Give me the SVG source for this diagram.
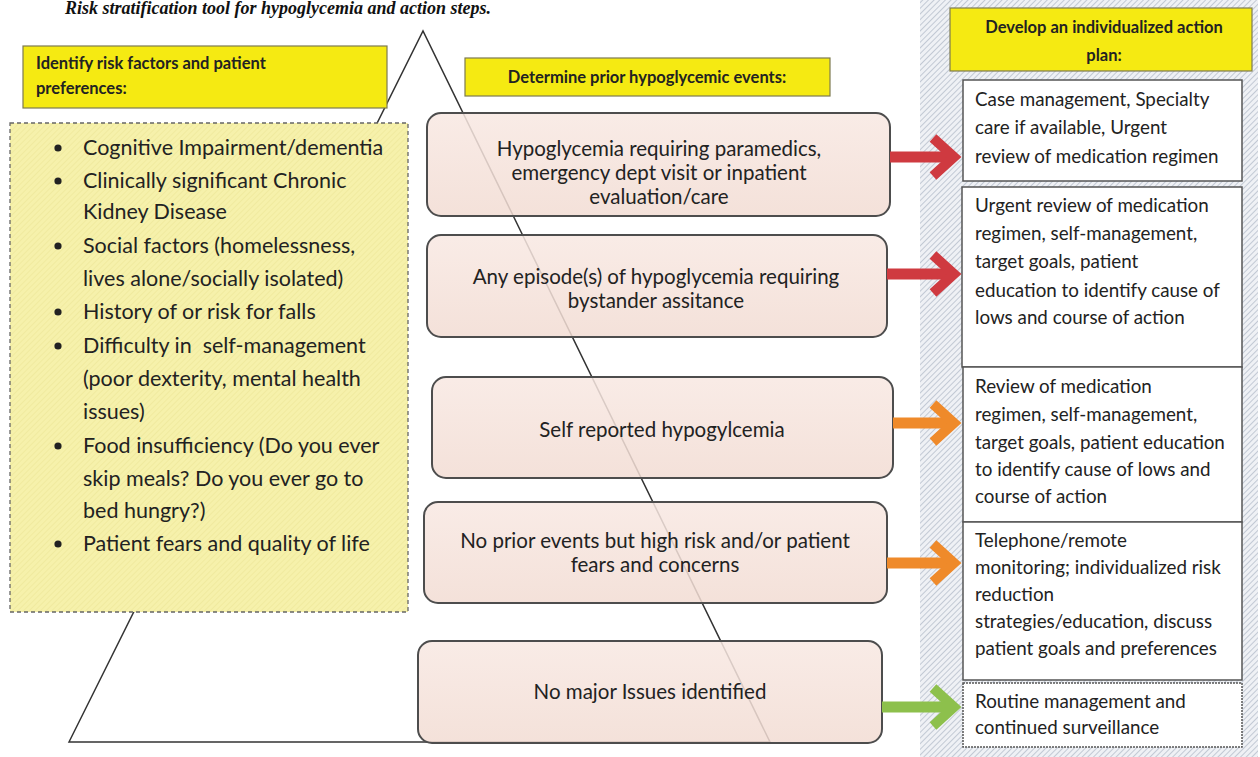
<svg xmlns="http://www.w3.org/2000/svg" width="1260" height="757" viewBox="0 0 1260 757">
<defs>
<pattern id="hatch" width="4" height="4" patternUnits="userSpaceOnUse" patternTransform="rotate(45)">
<rect width="4" height="4" fill="#eff1f5"/>
<line x1="0" y1="0" x2="0" y2="4" stroke="#aab3c3" stroke-width="1.3"/>
</pattern>
<pattern id="yhatch" width="4" height="4" patternUnits="userSpaceOnUse" patternTransform="rotate(45)">
<rect width="4" height="4" fill="#f6f1ab"/>
<line x1="0" y1="0" x2="0" y2="4" stroke="#ebe394" stroke-width="1"/>
</pattern>
<linearGradient id="pink" x1="0" y1="0" x2="0" y2="1">
<stop offset="0" stop-color="#f8e8e2"/>
<stop offset="1" stop-color="#f2dcd3"/>
</linearGradient>
</defs>
<style>
.t{font-family:Lato,"Liberation Sans",sans-serif;fill:#222}
.hd{font-weight:bold;font-size:16.5px}
.li{font-size:21.5px}
.mid{font-size:20.5px;text-anchor:middle}
.rt{font-size:18.8px}
.ybox{fill:#f5ea12;stroke:#7d7a50;stroke-width:1.2}
.pbox{fill:url(#pink);fill-opacity:.85;stroke:#4d4d4d;stroke-width:2}
.wbox{fill:#fff;stroke:#555;stroke-width:1.5}
.shaft{fill:none;stroke-width:11}
.head{fill:none;stroke-width:10;stroke-linejoin:miter;stroke-miterlimit:10}
.red{stroke:#cf3a40}.org{stroke:#ef8a2a}.grn{stroke:#8dc04c}
</style>
<rect width="1260" height="757" fill="#fff"/>
<text x="491" y="14" text-anchor="end" font-family="'Liberation Serif',serif" font-style="italic" font-weight="bold" font-size="18" fill="#111">Risk stratification tool for hypoglycemia and action steps.</text>

<g id="pyramid">
<path d="M69 742 L423 31 L770 742 Z" fill="none" stroke="#333" stroke-width="1.5"/>
</g>

<g id="risk-header">
<rect class="ybox" x="23" y="46" width="364" height="62"/>
<text class="t hd" x="36" y="69">Identify risk factors and patient</text>
<text class="t hd" x="36" y="94">preferences:</text>
</g>

<g id="risk-list">
<rect x="10" y="123" width="398" height="489" fill="url(#yhatch)" stroke="#666" stroke-width="1.3" stroke-dasharray="4 3"/>
<g fill="#222">
<circle cx="58" cy="148" r="3.6"/><circle cx="58" cy="181" r="3.6"/><circle cx="58" cy="246" r="3.6"/>
<circle cx="58" cy="312" r="3.6"/><circle cx="58" cy="346" r="3.6"/><circle cx="58" cy="446" r="3.6"/>
<circle cx="58" cy="544" r="3.6"/>
</g>
<text class="t li" x="83" y="155">Cognitive Impairment/dementia</text>
<text class="t li" x="83" y="188">Clinically significant Chronic</text>
<text class="t li" x="83" y="219">Kidney Disease</text>
<text class="t li" x="83" y="253">Social factors (homelessness,</text>
<text class="t li" x="83" y="286">lives alone/socially isolated)</text>
<text class="t li" x="83" y="319">History of or risk for falls</text>
<text class="t li" x="83" y="353">Difficulty in &#160;self-management</text>
<text class="t li" x="83" y="386">(poor dexterity, mental health</text>
<text class="t li" x="83" y="419">issues)</text>
<text class="t li" x="83" y="453">Food insufficiency (Do you ever</text>
<text class="t li" x="83" y="486">skip meals? Do you ever go to</text>
<text class="t li" x="83" y="518">bed hungry?)</text>
<text class="t li" x="83" y="551">Patient fears and quality of life</text>
</g>

<g id="events-header">
<rect class="ybox" x="465" y="58" width="365" height="38"/>
<text class="t hd" x="647" y="83" text-anchor="middle" font-size="16">Determine prior hypoglycemic events:</text>
</g>

<g id="event-1">
<rect class="pbox" x="427" y="113" width="463" height="103" rx="14"/>
<text class="t mid" x="659" y="156">Hypoglycemia requiring paramedics,</text>
<text class="t mid" x="659" y="180">emergency dept visit or inpatient</text>
<text class="t mid" x="659" y="204">evaluation/care</text>
</g>
<g id="event-2">
<rect class="pbox" x="427" y="235" width="460" height="102" rx="14"/>
<text class="t mid" x="656" y="284">Any episode(s) of hypoglycemia requiring</text>
<text class="t mid" x="656" y="308">bystander assitance</text>
</g>
<g id="event-3">
<rect class="pbox" x="432" y="377" width="461" height="101" rx="14"/>
<text class="t mid" x="662" y="437">Self reported hypogylcemia</text>
</g>
<g id="event-4">
<rect class="pbox" x="424" y="502" width="463" height="101" rx="14"/>
<text class="t mid" x="655" y="548">No prior events but high risk and/or patient</text>
<text class="t mid" x="655" y="572">fears and concerns</text>
</g>
<g id="event-5">
<rect class="pbox" x="418" y="641" width="464" height="102" rx="14"/>
<text class="t mid" x="650" y="699">No major Issues identified</text>
</g>

<g id="action-panel">
<rect x="920" y="0" width="338" height="757" fill="url(#hatch)"/>
</g>
<g id="action-header">
<rect class="ybox" x="950" y="8" width="302" height="63"/>
<text class="t hd" x="1104" y="33" text-anchor="middle" font-size="17.5">Develop an individualized action</text>
<text class="t hd" x="1104" y="61" text-anchor="middle" font-size="17.5">plan:</text>
</g>
<g id="action-1">
<rect class="wbox" x="963" y="80" width="279" height="101"/>
<text class="t rt" x="975" y="106">Case management, Specialty</text>
<text class="t rt" x="975" y="134">care if available, Urgent</text>
<text class="t rt" x="975" y="163">review of medication regimen</text>
</g>
<g id="action-2">
<rect class="wbox" x="962" y="187" width="280" height="180"/>
<text class="t rt" x="975" y="212">Urgent review of medication</text>
<text class="t rt" x="975" y="240">regimen, self-management,</text>
<text class="t rt" x="975" y="268">target goals, patient</text>
<text class="t rt" x="975" y="297">education to identify cause of</text>
<text class="t rt" x="975" y="324">lows and course of action</text>
</g>
<g id="action-3">
<rect class="wbox" x="963" y="367" width="279" height="155"/>
<text class="t rt" x="975" y="393">Review of medication</text>
<text class="t rt" x="975" y="421">regimen, self-management,</text>
<text class="t rt" x="975" y="449">target goals, patient education</text>
<text class="t rt" x="975" y="476">to identify cause of lows and</text>
<text class="t rt" x="975" y="503">course of action</text>
</g>
<g id="action-4">
<rect class="wbox" x="963" y="522" width="279" height="158"/>
<text class="t rt" x="975" y="547">Telephone/remote</text>
<text class="t rt" x="975" y="574">monitoring; individualized risk</text>
<text class="t rt" x="975" y="601">reduction</text>
<text class="t rt" x="975" y="628">strategies/education, discuss</text>
<text class="t rt" x="975" y="655">patient goals and preferences</text>
</g>
<g id="action-5">
<rect class="wbox" x="963" y="683" width="279" height="64" stroke-dasharray="2 1"/>
<text class="t rt" x="975" y="708">Routine management and</text>
<text class="t rt" x="975" y="734">continued surveillance</text>
</g>

<g id="connectors">
<path class="shaft red" d="M890 157 H950"/>
<path class="head red" d="M933 138 L954 157 L933 176"/>
<path class="shaft red" d="M887 274 H950"/>
<path class="head red" d="M933 255 L954 274 L933 293"/>
<path class="shaft org" d="M893 423 H950"/>
<path class="head org" d="M933 404 L954 423 L933 442"/>
<path class="shaft org" d="M887 563 H950"/>
<path class="head org" d="M933 544 L954 563 L933 582"/>
<path class="shaft grn" d="M882 707 H950"/>
<path class="head grn" d="M933 688 L954 707 L933 726"/>
</g>
</svg>
